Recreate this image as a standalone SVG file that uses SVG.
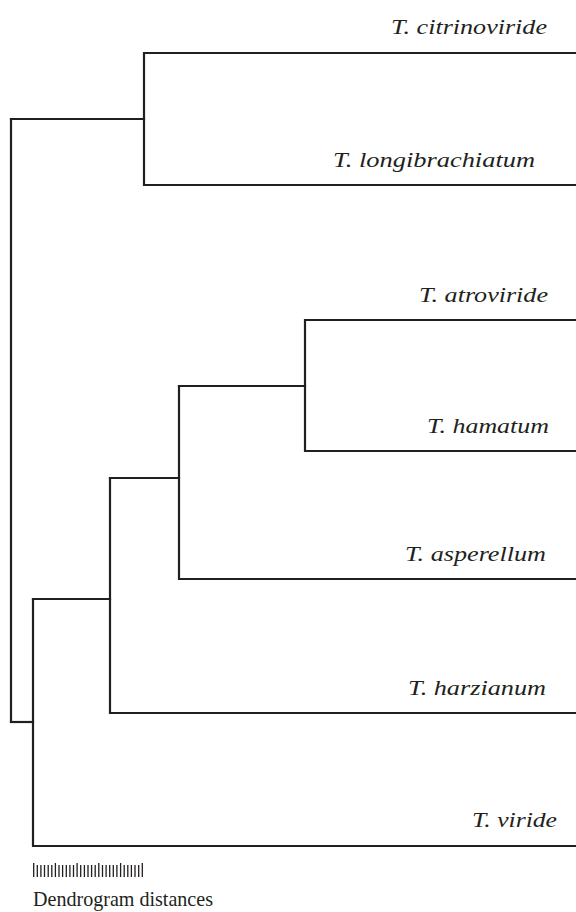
<svg xmlns="http://www.w3.org/2000/svg" width="576" height="912" viewBox="0 0 576 912">
<style>
.ln{fill:none;stroke:#231f20;stroke-width:2.2;stroke-linecap:square}
.lab{font-family:"Liberation Serif","Times New Roman",serif;font-style:italic;font-size:22px;fill:#231f20}
.cap{font-family:"Liberation Serif","Times New Roman",serif;font-size:22px;fill:#231f20}
.tk{stroke:#231f20;stroke-width:1.3}
</style>
<rect width="576" height="912" fill="#fff"/>
<g id="connectors">
<path class="ln" d="M576,53 H144 V185 H576"/>
<path class="ln" d="M11,119 H144"/>
<path class="ln" d="M576,320 H305 V451 H576"/>
<path class="ln" d="M179,386 H305"/>
<path class="ln" d="M576,579 H179 V386"/>
<path class="ln" d="M110,478 H179"/>
<path class="ln" d="M576,713 H110 V478"/>
<path class="ln" d="M33,599 H110"/>
<path class="ln" d="M576,846 H33 V599"/>
<path class="ln" d="M11,722 H33"/>
<path class="ln" d="M11,119 V722"/>
</g>
<g id="n-citrinoviride"><text class="lab" x="391" y="34" textLength="156" lengthAdjust="spacingAndGlyphs">T. citrinoviride</text></g>
<g id="n-longibrachiatum"><text class="lab" x="333" y="167" textLength="202" lengthAdjust="spacingAndGlyphs">T. longibrachiatum</text></g>
<g id="n-atroviride"><text class="lab" x="419" y="302" textLength="129" lengthAdjust="spacingAndGlyphs">T. atroviride</text></g>
<g id="n-hamatum"><text class="lab" x="427" y="433" textLength="122" lengthAdjust="spacingAndGlyphs">T. hamatum</text></g>
<g id="n-asperellum"><text class="lab" x="405" y="561" textLength="141" lengthAdjust="spacingAndGlyphs">T. asperellum</text></g>
<g id="n-harzianum"><text class="lab" x="408" y="695" textLength="138" lengthAdjust="spacingAndGlyphs">T. harzianum</text></g>
<g id="n-viride"><text class="lab" x="472" y="827" textLength="85" lengthAdjust="spacingAndGlyphs">T. viride</text></g>
<g id="scale">
<path class="tk" d="M33.7,863V877 M37.3,865V877 M40.9,865V877 M44.5,865V877 M48.2,865V877 M51.8,865V877 M55.4,863V877 M59,865V877 M62.6,865V877 M66.3,865V877 M69.9,865V877 M73.5,865V877 M77.1,863V877 M80.7,865V877 M84.4,865V877 M88,865V877 M91.6,865V877 M95.2,865V877 M98.8,863V877 M102.5,865V877 M106.1,865V877 M109.7,865V877 M113.3,865V877 M116.9,865V877 M120.6,863V877 M124.2,865V877 M127.8,865V877 M131.4,865V877 M135,865V877 M138.7,865V877 M142.3,863V877"/>
<text class="cap" x="33" y="906" textLength="180" lengthAdjust="spacingAndGlyphs">Dendrogram distances</text>
</g>
</svg>
